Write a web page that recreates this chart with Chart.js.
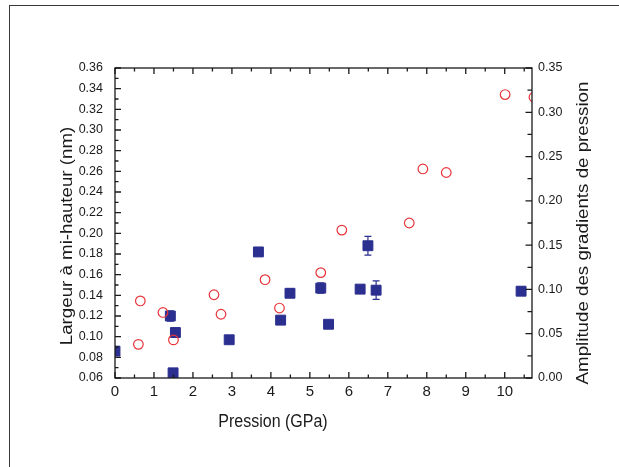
<!DOCTYPE html>
<html>
<head>
<meta charset="utf-8">
<script src="https://cdn.jsdelivr.net/npm/chart.js@4.4.0/dist/chart.umd.min.js"></script>
<style>
  html, body { margin: 0; padding: 0; background: #fff; overflow: hidden; }
  #wrap { position: relative; width: 619px; height: 467px; }
  #frame { position: absolute; left: 9px; top: 5px; width: 700px; height: 600px;
           border-left: 1px solid #3a3a3a; border-top: 1px solid #3a3a3a; pointer-events: none; }
</style>
</head>
<body>
<div id="wrap">
  <canvas id="chart" width="619" height="467"></canvas>
  <div id="frame"></div>
</div>
<script>
// largeur a mi-hauteur (axe de gauche)
const widthPressure = [0, 1.42, 1.55, 1.49, 2.93, 3.68, 4.25, 4.49, 5.28, 5.48, 6.29, 6.49, 6.70, 10.42];
const widthValue = [0.086, 0.120, 0.104, 0.065, 0.097, 0.182, 0.116, 0.142, 0.147, 0.112, 0.146, 0.188, 0.145, 0.144];
const widthError = [0, 0.005, 0.004, 0, 0, 0, 0, 0.004, 0.005, 0, 0, 0.009, 0.009, 0.004];

// amplitude des gradients de pression (axe de droite)
const gradPressure = [0.65, 0.60, 1.23, 1.50, 2.54, 2.72, 3.85, 4.22, 5.28, 5.82, 7.55, 7.90, 8.50, 10.01, 10.75];
const gradValue = [0.087, 0.038, 0.074, 0.043, 0.094, 0.072, 0.111, 0.079, 0.119, 0.167, 0.175, 0.236, 0.232, 0.320, 0.317];

const xTicks = [0, 1, 2, 3, 4, 5, 6, 7, 8, 9, 10];
const leftTicks = [0.06, 0.08, 0.10, 0.12, 0.14, 0.16, 0.18, 0.20, 0.22, 0.24, 0.26, 0.28, 0.30, 0.32, 0.34, 0.36];
const rightTicks = [0, 0.05, 0.10, 0.15, 0.20, 0.25, 0.30, 0.35];

const xTitle = 'Pression (GPa)';
const leftTitle = 'Largeur à mi-hauteur (nm)';
const rightTitle = 'Amplitude des gradients de pression';

const FONT = "'Liberation Sans', Arial, sans-serif";
const INK = '#1a1a1a';
const BLUE = '#2b2f8f';
const RED = '#e8343a';

function minors(ticks, max) {
  const step = ticks[1] - ticks[0];
  return ticks.map(t => t + step / 2).filter(t => t < max);
}

// error bars on the squares
const errorBars = {
  id: 'errorBars',
  beforeDatasetsDraw(chart) {
    const { ctx, scales } = chart;
    ctx.save();
    ctx.strokeStyle = BLUE;
    ctx.lineWidth = 1.2;
    ctx.beginPath();
    widthPressure.forEach((p, i) => {
      const e = widthError[i];
      if (!e) return;
      const x = scales.x.getPixelForValue(p);
      const y1 = scales.y.getPixelForValue(widthValue[i] + e);
      const y2 = scales.y.getPixelForValue(widthValue[i] - e);
      ctx.moveTo(x, y1); ctx.lineTo(x, y2);
      ctx.moveTo(x - 3.5, y1); ctx.lineTo(x + 3.5, y1);
      ctx.moveTo(x - 3.5, y2); ctx.lineTo(x + 3.5, y2);
    });
    ctx.stroke();
    ctx.restore();
  }
};

// box with inward ticks on all four sides
const axisBox = {
  id: 'axisBox',
  afterDatasetsDraw(chart) {
    const { ctx, chartArea: a, scales } = chart;
    ctx.save();
    ctx.strokeStyle = INK;
    ctx.lineWidth = 1.3;
    ctx.strokeRect(a.left, a.top, a.right - a.left, a.bottom - a.top);
    ctx.beginPath();
    const xs = [[xTicks, 6], [minors(xTicks, 10.7), 3.5]];
    xs.forEach(([vals, len]) => vals.forEach(v => {
      const x = scales.x.getPixelForValue(v);
      ctx.moveTo(x, a.bottom); ctx.lineTo(x, a.bottom - len);
      ctx.moveTo(x, a.top); ctx.lineTo(x, a.top + len);
    }));
    [[leftTicks, 6], [minors(leftTicks, 0.36), 3.5]].forEach(([vals, len]) => vals.forEach(v => {
      const y = scales.y.getPixelForValue(v);
      ctx.moveTo(a.left, y); ctx.lineTo(a.left + len, y);
    }));
    [[rightTicks, 6.5], [minors(rightTicks, 0.35), 4.5]].forEach(([vals, len]) => vals.forEach(v => {
      const y = scales.y2.getPixelForValue(v);
      ctx.moveTo(a.right, y); ctx.lineTo(a.right - len, y);
    }));
    ctx.stroke();
    ctx.restore();
  }
};

// axis titles, slightly stretched like the original figure
const axisTitles = {
  id: 'axisTitles',
  afterDraw(chart) {
    const { ctx, chartArea: a } = chart;
    ctx.save();
    ctx.fillStyle = INK;
    ctx.font = '16px ' + FONT;
    ctx.textAlign = 'center';
    ctx.textBaseline = 'alphabetic';

    ctx.save();
    ctx.translate(a.left + 158, a.bottom + 49);
    ctx.scale(1, 1.17);
    ctx.fillText(xTitle, 0, 0);
    ctx.restore();

    ctx.save();
    ctx.translate(a.left - 43.5, (a.top + a.bottom) / 2 + 13);
    ctx.rotate(-Math.PI / 2);
    ctx.scale(1.17, 1);
    ctx.fillText(leftTitle, 0, 0);
    ctx.restore();

    ctx.save();
    ctx.translate(a.right + 55.5, (a.top + a.bottom) / 2 + 10);
    ctx.rotate(-Math.PI / 2);
    ctx.scale(1.17, 1);
    ctx.fillText(rightTitle, 0, 0);
    ctx.restore();

    ctx.restore();
  }
};

new Chart(document.getElementById('chart'), {
  type: 'scatter',
  data: {
    datasets: [
      {
        label: rightTitle,
        data: gradPressure.map((x, i) => ({ x, y: gradValue[i] })),
        yAxisID: 'y2',
        pointStyle: 'circle',
        pointRadius: 4.8,
        borderWidth: 1.2,
        borderColor: RED,
        backgroundColor: 'rgba(0,0,0,0)',
        clip: 0,
        order: 0
      },
      {
        label: leftTitle,
        data: widthPressure.map((x, i) => ({ x, y: widthValue[i] })),
        yAxisID: 'y',
        pointStyle: 'rect',
        pointRadius: 7,
        borderWidth: 1,
        borderColor: BLUE,
        backgroundColor: BLUE,
        clip: 0,
        order: 1
      }
    ]
  },
  options: {
    responsive: false,
    animation: false,
    events: [],
    layout: { padding: { top: 68, left: 0, right: 0, bottom: 0 } },
    plugins: { legend: { display: false }, tooltip: { enabled: false } },
    scales: {
      x: {
        type: 'linear', position: 'bottom', min: 0, max: 10.7,
        grid: { display: false, drawTicks: false }, border: { display: false },
        afterBuildTicks: s => { s.ticks = xTicks.map(v => ({ value: v })); },
        afterFit: s => { s.height = 89; },
        ticks: { padding: 5, autoSkip: false, maxRotation: 0, color: INK,
                 font: { family: FONT, size: 15 }, callback: v => String(v) }
      },
      y: {
        type: 'linear', position: 'left', min: 0.06, max: 0.36,
        grid: { display: false, drawTicks: false }, border: { display: false },
        afterBuildTicks: s => { s.ticks = leftTicks.map(v => ({ value: v })); },
        afterFit: s => { s.width = 115; },
        ticks: { padding: 12, autoSkip: false, color: INK,
                 font: { family: FONT, size: 12.5 }, callback: v => v.toFixed(2) }
      },
      y2: {
        type: 'linear', position: 'right', min: 0, max: 0.35,
        grid: { display: false, drawTicks: false }, border: { display: false },
        afterBuildTicks: s => { s.ticks = rightTicks.map(v => ({ value: v })); },
        afterFit: s => { s.width = 87; },
        ticks: { padding: 6, autoSkip: false, color: INK,
                 font: { family: FONT, size: 12.5 }, callback: v => v.toFixed(2) }
      }
    }
  },
  plugins: [errorBars, axisBox, axisTitles]
});
</script>
</body>
</html>
